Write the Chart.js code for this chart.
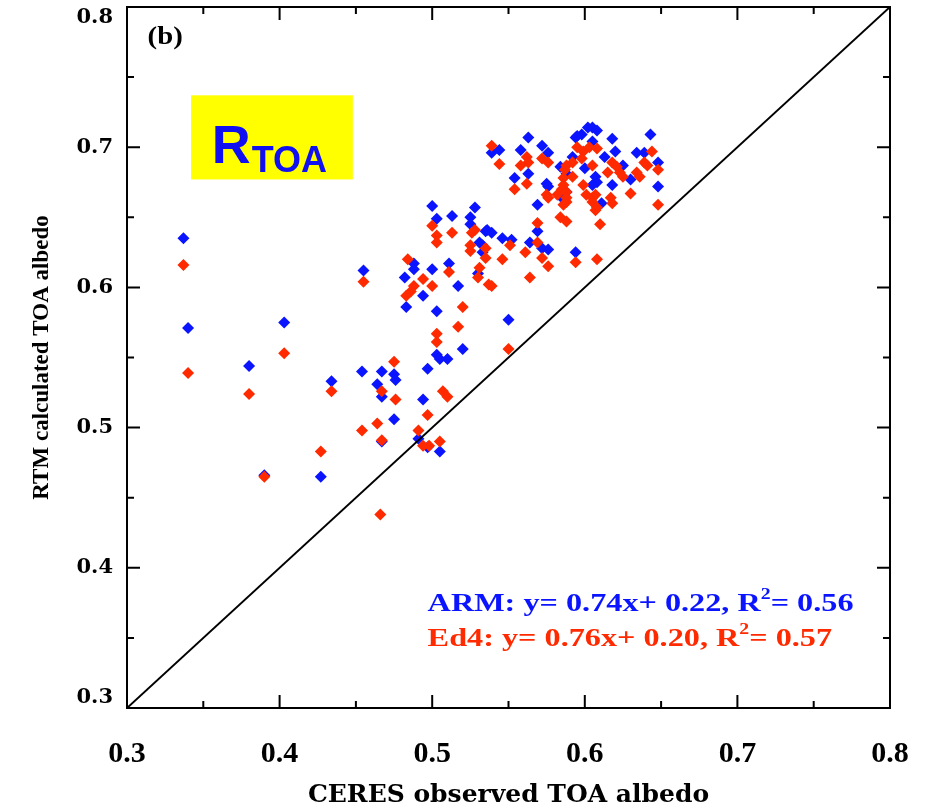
<!DOCTYPE html>
<html>
<head>
<meta charset="utf-8">
<script src="https://cdn.jsdelivr.net/npm/chart.js@4.4.1/dist/chart.umd.min.js"></script>
<style>
  html, body { margin: 0; padding: 0; background: #ffffff; }
  #wrap { width: 925px; height: 812px; position: relative; }
</style>
</head>
<body>
<div id="wrap"><canvas id="c" width="925" height="812"></canvas></div>
<script>
// ---- data ----
const armX = [0.337,0.340,0.403,0.380,0.434,0.427,0.390,
  0.455,0.488,0.488,0.500,0.511,0.482,0.494,0.517,0.483,0.503,0.550,0.520,0.503,0.505,0.510,0.497,0.454,0.467,0.475,0.476,0.464,0.467,0.494,0.475,0.467,0.491,0.497,0.505,
  0.500,0.503,0.513,0.528,0.525,0.525,0.535,0.533,0.530,
  0.563,0.544,0.539,0.558,0.572,0.576,0.563,0.584,0.588,0.554,0.575,0.576,0.588,0.585,0.569,0.569,0.572,0.576,0.536,0.539,0.546,0.552,0.564,0.531,0.533,
  0.602,0.605,0.608,0.598,0.594,0.595,0.618,0.643,0.605,0.592,0.613,0.620,0.625,0.634,0.639,0.630,0.648,0.648,0.600,0.607,0.608,0.605,0.618,0.611,0.594];
const armY = [0.635,0.571,0.575,0.544,0.533,0.465,0.466,
  0.612,0.617,0.613,0.613,0.617,0.607,0.594,0.601,0.586,0.583,0.577,0.556,0.552,0.549,0.549,0.542,0.540,0.540,0.538,0.534,0.531,0.522,0.520,0.506,0.490,0.492,0.486,0.483,
  0.658,0.649,0.651,0.657,0.650,0.645,0.640,0.630,0.610,
  0.707,0.698,0.696,0.698,0.701,0.696,0.681,0.686,0.681,0.678,0.674,0.672,0.668,0.664,0.659,0.640,0.628,0.627,0.641,0.639,0.635,0.634,0.632,0.632,0.625,
  0.714,0.714,0.712,0.709,0.707,0.708,0.706,0.709,0.704,0.693,0.693,0.697,0.687,0.696,0.696,0.677,0.689,0.672,0.685,0.679,0.675,0.673,0.673,0.660,0.625];

const ed4X = [0.337,0.340,0.403,0.380,0.434,0.427,0.390,
  0.455,0.484,0.511,0.494,0.488,0.486,0.483,0.500,0.520,0.517,0.503,0.503,0.550,0.475,0.467,0.476,0.507,0.510,0.497,0.464,0.454,0.467,0.491,0.494,0.498,0.505,0.466,
  0.500,0.503,0.503,0.513,0.528,0.526,0.525,0.525,0.535,0.535,0.531,0.530,0.537,
  0.539,0.544,0.562,0.563,0.558,0.572,0.576,0.588,0.562,0.554,0.585,0.582,0.575,0.576,0.588,0.584,0.588,0.569,0.569,0.572,0.576,0.564,0.551,0.561,0.546,0.539,
  0.595,0.599,0.603,0.608,0.592,0.598,0.618,0.621,0.623,0.625,0.644,0.639,0.641,0.634,0.636,0.630,0.648,0.648,0.605,0.615,0.587,0.586,0.592,0.599,0.586,0.588,0.601,0.605,0.607,0.605,0.608,0.607,0.617,0.618,0.588,0.586,0.610,0.594,0.608];
const ed4Y = [0.616,0.539,0.553,0.524,0.526,0.483,0.465,
  0.604,0.620,0.611,0.606,0.601,0.597,0.594,0.601,0.586,0.572,0.567,0.561,0.556,0.547,0.526,0.520,0.526,0.522,0.509,0.503,0.498,0.491,0.498,0.487,0.487,0.490,0.438,
  0.644,0.637,0.632,0.639,0.641,0.639,0.630,0.626,0.628,0.621,0.614,0.607,0.602,
  0.701,0.688,0.693,0.689,0.687,0.692,0.689,0.687,0.674,0.670,0.670,0.666,0.666,0.664,0.661,0.650,0.647,0.646,0.632,0.621,0.615,0.607,0.630,0.625,0.620,0.601,
  0.700,0.697,0.700,0.699,0.689,0.692,0.689,0.686,0.682,0.679,0.697,0.689,0.687,0.682,0.679,0.667,0.684,0.659,0.687,0.682,0.684,0.678,0.679,0.673,0.673,0.668,0.666,0.664,0.666,0.661,0.657,0.655,0.664,0.660,0.664,0.659,0.645,0.618,0.620];

const oneToOneX = [0.3, 0.8];
const oneToOneY = [0.3, 0.8];

const majorTicks = [0.3, 0.4, 0.5, 0.6, 0.7, 0.8];
const minorTicks = [0.35, 0.45, 0.55, 0.65, 0.75];

const armLabel = ["ARM: y= 0.74x+ 0.22, R", "2", "= 0.56"];
const ed4Label = ["Ed4: y= 0.76x+ 0.20, R", "2", "= 0.57"];

const BLUE = '#0a14ff';
const RED = '#ff2a00';
const SERIF = "'Liberation Serif', 'Times New Roman', serif";

function zip(xs, ys) { return xs.map((x, i) => ({ x: x, y: ys[i] })); }

function drawStretched(ctx, parts, x, y, size, sx, color, sup) {
  ctx.save();
  ctx.translate(x, y);
  ctx.scale(sx, 1);
  ctx.fillStyle = color;
  ctx.textAlign = 'left';
  ctx.textBaseline = 'alphabetic';
  let cx = 0;
  parts.forEach((p, i) => {
    if (sup && i === 1) {
      ctx.font = 'bold ' + Math.round(size * 0.6) + 'px ' + SERIF;
      ctx.fillText(p, cx, -Math.round(size * 0.45));
      cx += ctx.measureText(p).width;
    } else {
      ctx.font = 'bold ' + size + 'px ' + SERIF;
      ctx.fillText(p, cx, 0);
      cx += ctx.measureText(p).width;
    }
  });
  ctx.restore();
}

const framePlugin = {
  id: 'frame',
  afterDraw(chart) {
    const ctx = chart.ctx;
    const xs = chart.scales.x, ys = chart.scales.y;
    const a = chart.chartArea;
    ctx.save();
    ctx.strokeStyle = '#000';
    ctx.lineWidth = 2;
    ctx.strokeRect(a.left, a.top, a.right - a.left, a.bottom - a.top);
    ctx.beginPath();
    const tick = (v, len) => {
      const px = xs.getPixelForValue(v);
      ctx.moveTo(px, a.bottom); ctx.lineTo(px, a.bottom - len);
      ctx.moveTo(px, a.top); ctx.lineTo(px, a.top + len);
      const py = ys.getPixelForValue(v);
      ctx.moveTo(a.left, py); ctx.lineTo(a.left + len, py);
      ctx.moveTo(a.right, py); ctx.lineTo(a.right - len, py);
    };
    majorTicks.forEach(v => tick(v, 13));
    minorTicks.forEach(v => tick(v, 7));
    ctx.stroke();

    // panel label
    drawStretched(ctx, ['(b)'], xs.getPixelForValue(0.3135), ys.getPixelForValue(0.7735), 25, 1.15, '#000', false);

    // yellow box with R_TOA
    const bx0 = xs.getPixelForValue(0.342), bx1 = xs.getPixelForValue(0.448);
    const by0 = ys.getPixelForValue(0.737), by1 = ys.getPixelForValue(0.677);
    ctx.fillStyle = '#ffff00';
    ctx.fillRect(bx0, by0, bx1 - bx0, by1 - by0);
    ctx.fillStyle = '#1010f0';
    ctx.textAlign = 'left';
    ctx.textBaseline = 'alphabetic';
    ctx.font = "bold 54px 'Liberation Sans', Arial, sans-serif";
    const rx = xs.getPixelForValue(0.3555), ry = ys.getPixelForValue(0.689);
    ctx.fillText('R', rx, ry);
    const rw = ctx.measureText('R').width;
    ctx.font = "bold 36px 'Liberation Sans', Arial, sans-serif";
    ctx.fillText('TOA', rx + rw + 1, ry + 9);

    // regression texts
    drawStretched(ctx, armLabel, xs.getPixelForValue(0.497), ys.getPixelForValue(0.369), 26, 1.24, BLUE, true);
    drawStretched(ctx, ed4Label, xs.getPixelForValue(0.497), ys.getPixelForValue(0.344), 26, 1.24, RED, true);
    ctx.restore();
  }
};

new Chart(document.getElementById('c'), {
  type: 'scatter',
  data: {
    datasets: [
      {
        label: 'Ed4',
        data: zip(ed4X, ed4Y),
        backgroundColor: RED,
        borderWidth: 0,
        pointStyle: 'rectRot',
        pointRadius: 6,
        order: 1
      },
      {
        label: 'ARM',
        data: zip(armX, armY),
        backgroundColor: BLUE,
        borderWidth: 0,
        pointStyle: 'rectRot',
        pointRadius: 6,
        order: 2
      },
      {
        type: 'line',
        label: '1:1',
        data: zip(oneToOneX, oneToOneY),
        borderColor: '#000',
        borderWidth: 2,
        pointRadius: 0,
        fill: false,
        order: 0
      }
    ]
  },
  options: {
    responsive: false,
    animation: false,
    devicePixelRatio: 1,
    layout: { padding: { left: 24, top: 7, right: 35, bottom: 0 } },
    plugins: { legend: { display: false }, tooltip: { enabled: false } },
    scales: {
      x: {
        type: 'linear', min: 0.3, max: 0.8,
        afterBuildTicks: s => { s.ticks = majorTicks.map(v => ({ value: v })); },
        afterFit: s => { s.height = 104; s.paddingLeft = 0; s.paddingRight = 0; },
        grid: { display: false, drawTicks: false },
        border: { display: false },
        ticks: {
          padding: 28,
          color: '#000',
          font: { family: SERIF, size: 30, weight: 'bold' },
          maxRotation: 0,
          callback: v => Number(v).toFixed(1)
        },
        title: {
          display: true,
          text: 'CERES observed TOA albedo',
          color: '#000',
          font: { family: "'DejaVu Serif', serif", size: 25, weight: 'bold' },
          padding: { top: 0, bottom: 2 }
        }
      },
      y: {
        type: 'linear', min: 0.3, max: 0.8,
        afterBuildTicks: s => { s.ticks = majorTicks.map(v => ({ value: v })); },
        afterFit: s => { s.width = 103; s.paddingTop = 0; s.paddingBottom = 0; },
        grid: { display: false, drawTicks: false },
        border: { display: false },
        ticks: {
          padding: 14,
          color: '#000',
          font: { family: "'DejaVu Serif', serif", size: 21, weight: 'bold', lineHeight: 1.0 },
          callback: v => {
            const t = Number(v).toFixed(1);
            if (Math.abs(v - 0.8) < 1e-9) return ['', t];
            if (Math.abs(v - 0.3) < 1e-9) return [t, ''];
            return t;
          }
        },
        title: {
          display: true,
          text: 'RTM calculated TOA albedo',
          color: '#000',
          font: { family: SERIF, size: 23, weight: 'bold' },
          padding: { top: 4, bottom: 4 }
        }
      }
    }
  },
  plugins: [framePlugin]
});
</script>
</body>
</html>
